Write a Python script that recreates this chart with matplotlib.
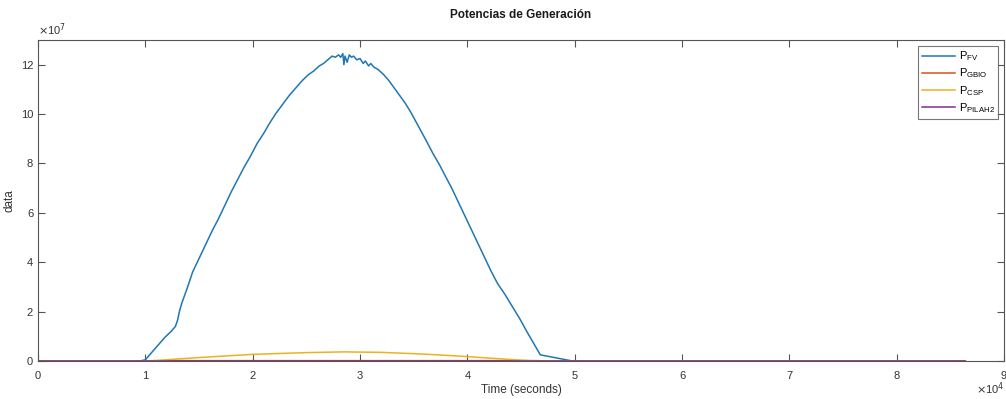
import matplotlib
matplotlib.use("Agg")
import matplotlib.pyplot as plt
from matplotlib.ticker import FuncFormatter

plt.rcParams["font.family"] = ["Liberation Sans", "DejaVu Sans"]

# generation power time series (seconds, watts)
t_fv = [0, 9500, 10000, 10600, 11200, 11800, 12400, 12800, 13000, 13200, 13400,
        13900, 14400, 15000, 15600, 16200, 16800, 17400, 18000, 18600, 19200,
        19800, 20400, 21000, 21600, 22200, 22800, 23400, 24000, 24600, 25200,
        25700, 26200, 26600, 27000, 27400, 27700, 28000, 28200, 28400, 28500,
        28600, 28800, 29000, 29200, 29400, 29700, 30000, 30300, 30500, 30800,
        31000, 31300, 31700, 32200, 32700, 33200, 33700, 34200, 34700, 35200,
        35700, 36200, 36800, 37400, 38000, 38600, 39200, 39800, 40400, 41000,
        41600, 42200, 42800, 43500, 44200, 44900, 45600, 46200, 46800, 49800, 86400]
p_fv = [0, 0, 0.05e7, 0.35e7, 0.65e7, 0.95e7, 1.2e7, 1.4e7, 1.65e7, 2.05e7, 2.35e7,
        2.95e7, 3.6e7, 4.15e7, 4.7e7, 5.25e7, 5.75e7, 6.3e7, 6.85e7, 7.35e7, 7.85e7,
        8.3e7, 8.8e7, 9.2e7, 9.65e7, 10.05e7, 10.4e7, 10.75e7, 11.05e7, 11.35e7, 11.6e7,
        11.75e7, 11.95e7, 12.05e7, 12.2e7, 12.35e7, 12.3e7, 12.4e7, 12.3e7, 12.45e7, 12.0e7,
        12.35e7, 12.1e7, 12.4e7, 12.3e7, 12.35e7, 12.2e7, 12.25e7, 12.05e7, 12.15e7, 11.95e7,
        12.05e7, 11.9e7, 11.8e7, 11.6e7, 11.35e7, 11.05e7, 10.75e7, 10.45e7, 10.1e7, 9.7e7,
        9.3e7, 8.9e7, 8.4e7, 7.95e7, 7.45e7, 6.95e7, 6.4e7, 5.85e7, 5.3e7, 4.75e7,
        4.2e7, 3.65e7, 3.15e7, 2.7e7, 2.2e7, 1.7e7, 1.15e7, 0.7e7, 0.25e7, 0, 0]

t_gbio = [0, 10000, 12000, 46500, 47500, 86400]
p_gbio = [0, 0, 0.015e7, 0.015e7, 0, 0]

t_csp = [0, 10000, 12000, 15000, 20000, 25000, 28500, 32000, 36000, 40000, 43000, 46000, 47000, 86400]
p_csp = [0, 0, 0.05e7, 0.14e7, 0.27e7, 0.34e7, 0.37e7, 0.35e7, 0.28e7, 0.18e7, 0.09e7, 0.01e7, 0, 0]

t_pila = [0, 86400]
p_pila = [0, 0]

labels = [r"P$_{\mathregular{FV}}$", r"P$_{\mathregular{GBIO}}$",
          r"P$_{\mathregular{CSP}}$", r"P$_{\mathregular{PILAH2}}$"]
colors = ["#1f77b4", "#D95319", "#EDB120", "#7E2F8E"]

fig = plt.figure(figsize=(10.06, 3.99), dpi=100)
ax = fig.add_axes([0.0378, 0.0952, 0.9602, 0.8045])

series = [(t_fv, p_fv), (t_gbio, p_gbio), (t_csp, p_csp), (t_pila, p_pila)]
for (t, p), c, lab in zip(series, colors, labels):
    ax.plot(t, p, color=c, lw=1.1, label=lab)

ax.set_xlim(0, 9e4)
ax.set_ylim(0, 13e7)
ax.set_xticks([i * 1e4 for i in range(10)])
ax.set_yticks([i * 2e7 for i in range(7)])
ax.xaxis.set_major_formatter(FuncFormatter(lambda v, _: f"{v / 1e4:g}"))
ax.yaxis.set_major_formatter(FuncFormatter(lambda v, _: f"{v / 1e7:g}"))

axis_gray = "#555555"
for s in ax.spines.values():
    s.set_color(axis_gray)
    s.set_linewidth(0.8)
ax.tick_params(direction="in", top=True, right=True, length=5, width=0.8,
               colors=axis_gray, labelsize=8, labelcolor="#333333")
ax.tick_params(axis="x", pad=7)

ax.text(0.0, 1.005, r"$\times$10$^{7}$", transform=ax.transAxes, fontsize=8,
        color="#333333", ha="left", va="bottom")
ax.text(1.0, -0.06, r"$\times$10$^{4}$", transform=ax.transAxes, fontsize=8,
        color="#333333", ha="right", va="top")

ax.set_xlabel("Time (seconds)", fontsize=8.5, color="#333333", labelpad=2)
ax.set_ylabel("data", fontsize=8.5, color="#333333", labelpad=4)
ax.set_title("Potencias de Generación", fontsize=8.5, fontweight="bold",
             color="#1a1a1a", pad=16)

leg = ax.legend(loc="upper right", fontsize=8, frameon=True, fancybox=False,
                edgecolor=axis_gray, handlelength=3.0, handletextpad=0.3,
                labelspacing=0.3, borderpad=0.35, borderaxespad=0.5)
leg.get_frame().set_linewidth(0.8)

fig.savefig("out.png", dpi=100)
